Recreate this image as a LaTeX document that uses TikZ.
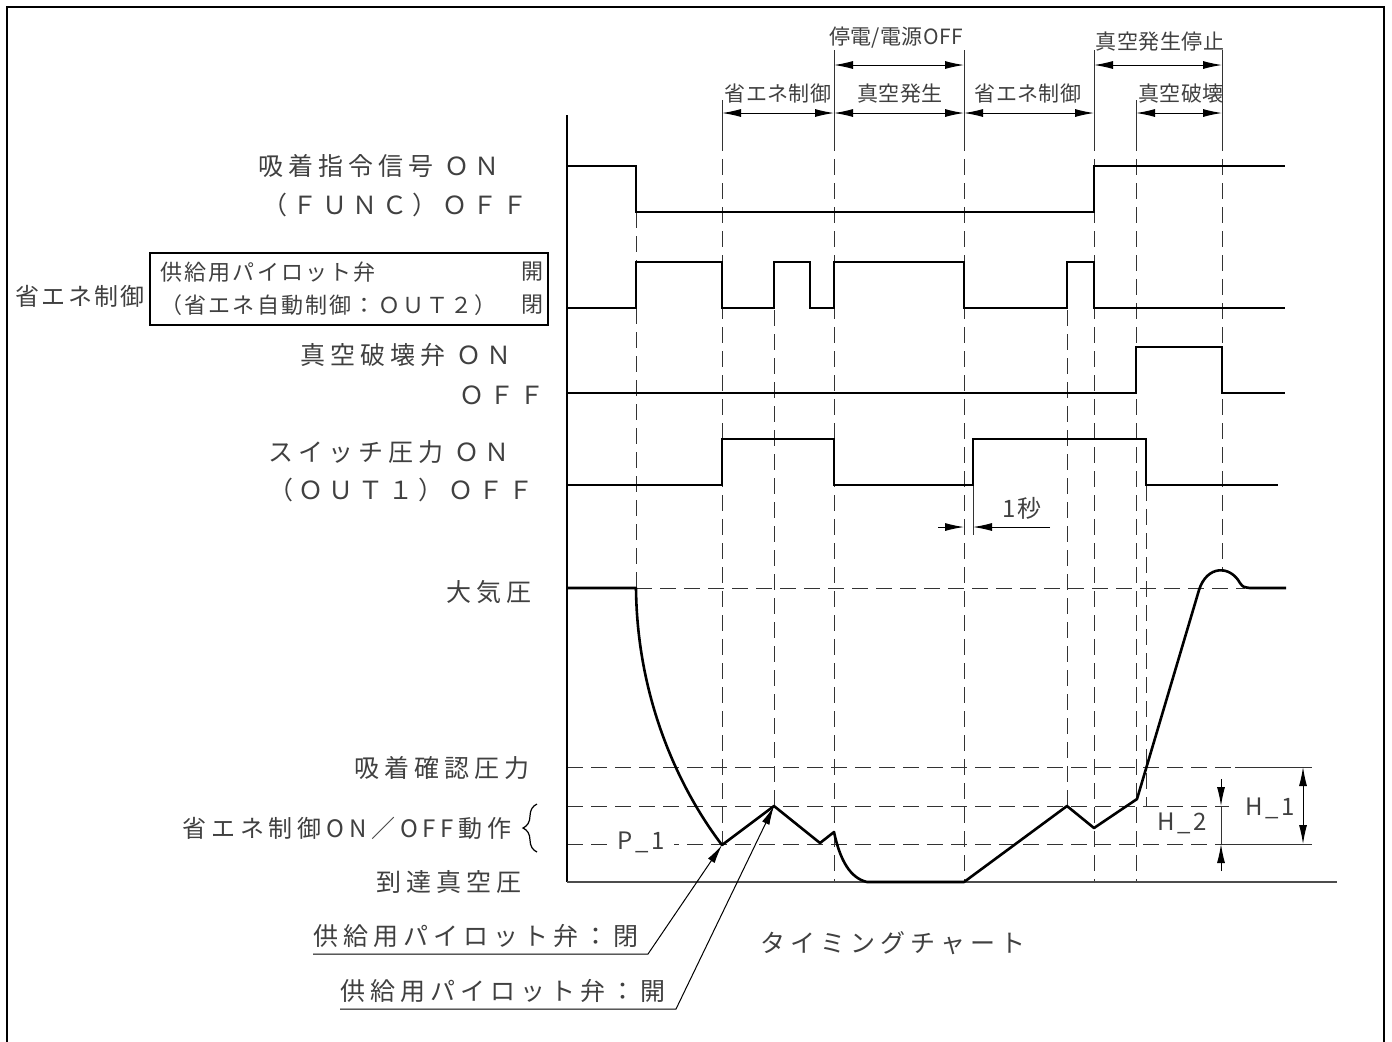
\documentclass[tikz,border=0pt]{standalone}
\usepackage{fontspec}
\setmainfont{Noto Sans CJK JP}
\newfontfamily\jpw[LetterSpace=20]{Noto Sans CJK JP}
\newfontfamily\jpm[LetterSpace=10]{Noto Sans CJK JP}
\newfontfamily\jpn[LetterSpace=2]{Noto Sans CJK JP}
\usetikzlibrary{arrows.meta,decorations.pathreplacing}
\begin{document}
\begin{tikzpicture}[x=0.5pt,y=-0.5pt,
  sig/.style={line width=1.3pt, line join=miter},
  guide/.style={line width=0.5pt, dash pattern=on 8pt off 4pt, black!80},
  ext/.style={line width=0.5pt, black!80},
  dimarr/.style={line width=0.5pt, {Latex[length=9.5pt,width=4pt]}-{Latex[length=9.5pt,width=4pt]}},
  onearr/.style={line width=0.5pt, -{Latex[length=9.5pt,width=4pt]}},
  lbl/.style={inner sep=0pt, font=\jpw\fontsize{12.5pt}{14pt}\selectfont, text=black!75},
  lbls/.style={inner sep=0pt, font=\jpw\fontsize{12pt}{14pt}\selectfont, text=black!75},
  lblm/.style={inner sep=0pt, font=\jpm\fontsize{12pt}{14pt}\selectfont, text=black!75},
  boxt/.style={inner sep=0pt, font=\jpm\fontsize{11pt}{13pt}\selectfont, text=black!75},
  sml/.style={inner sep=0pt, font=\jpn\fontsize{10.5pt}{12pt}\selectfont, text=black!75}
]
\useasboundingbox (0,0) rectangle (1392,1041);
% frame
\draw[line width=1pt] (7,1060) -- (7,7) -- (1384,7) -- (1384,1060);

% ---------- guide lines (vertical) ----------
\draw[ext] (722,100) -- (722,135);
\draw[guide] (722,135) -- (722,844);
\draw[ext] (834,50) -- (834,135);
\draw[guide] (834,135) -- (834,882);
\draw[ext] (964,50) -- (964,135);
\draw[guide] (964,135) -- (964,882);
\draw[ext] (1094,50) -- (1094,135);
\draw[guide] (1094,135) -- (1094,882);
\draw[ext] (1136,100) -- (1136,135);
\draw[guide] (1136,135) -- (1136,882);
\draw[ext] (1222,50) -- (1222,135);
\draw[guide] (1222,135) -- (1222,572);
\draw[guide] (636,212) -- (636,588);
\draw[guide] (774,262) -- (774,806);
\draw[guide] (1067,262) -- (1067,806);
\draw[guide] (1146,485) -- (1146,806);
\draw[ext] (973,485) -- (973,535);

% ---------- guide lines (horizontal) ----------
\draw[guide] (636,588) -- (1245,588);
\draw[guide] (567,767) -- (1235,767);
\draw[ext] (1235,767) -- (1312,767);
\draw[guide] (567,806) -- (1229,806);
\draw[guide] (567,844) -- (1230,844);
\draw[ext] (1230,844) -- (1312,844);

% ---------- top dimensions ----------
\draw[dimarr] (722,113) -- (834,113);
\draw[dimarr] (834,113) -- (964,113);
\draw[dimarr] (964,113) -- (1094,113);
\draw[dimarr] (1136,113) -- (1222,113);
\draw[dimarr] (834,65) -- (964,65);
\draw[dimarr] (1094,65) -- (1222,65);
\node[sml] (d1) at (778,94) {省エネ制御};
\node[sml] (d2) at (900,94) {真空発生};
\node[sml] (d3) at (1028,94) {省エネ制御};
\node[sml] (d4) at (1181,94) {真空破壊};
\node[sml] (d5) at (896,38) {停電/電源OFF};
\node[sml] (d6) at (1160,42) {真空発生停止};

% ---------- axes ----------
\draw[line width=1.3pt] (567,115) -- (567,882);
\draw[line width=0.7pt, black!70] (567,882) -- (1337,882);

% ---------- signals ----------
\draw[sig] (567,166) -- (636,166) -- (636,212) -- (1094,212) -- (1094,166) -- (1285,166);
\draw[sig] (567,308) -- (636,308) -- (636,262) -- (722,262) -- (722,308) -- (774,308) -- (774,262) -- (810,262) -- (810,308) -- (834,308) -- (834,262) -- (964,262) -- (964,308) -- (1067,308) -- (1067,262) -- (1094,262) -- (1094,308) -- (1285,308);
\draw[sig] (567,393) -- (1136,393) -- (1136,347) -- (1222,347) -- (1222,393) -- (1285,393);
\draw[sig] (567,485) -- (722,485) -- (722,439) -- (834,439) -- (834,485) -- (973,485) -- (973,439) -- (1146,439) -- (1146,485) -- (1278,485);

% pressure curve
\draw[sig, line join=round] (567,588) -- (636,588) .. controls (637,700) and (680,790) .. (722,845)
  -- (774,806) -- (820,843) -- (834,832) .. controls (840,860) and (850,878) .. (867,882)
  -- (964,882) -- (1067,806) -- (1094,828) -- (1137,799) -- (1199,590)
  .. controls (1207,565) and (1230,565) .. (1240,583) .. controls (1243,587) .. (1250,588) -- (1286,588);

% ---------- 1 second dimension ----------
\coordinate (s1a) at (938,527);
\coordinate (s1b) at (964,527);
\coordinate (s1c) at (973,527);
\coordinate (s1d) at (1050,527);
\draw[onearr] (s1a) -- (s1b);
\draw[onearr] (s1d) -- (s1c);
\node[lblm] (sec) at (1022,508) {1秒};

% ---------- H dimensions ----------
\draw[dimarr] (1303,767) -- (1303,844);
\node[lblm] (h1) at (1270,808) {H\_1};
\draw[onearr] (1221,779) -- (1221,806);
\draw[onearr] (1221,871) -- (1221,844);
\draw[ext] (1221,806) -- (1221,844);
\node[lblm] (h2) at (1182,823) {H\_2};
\node[lblm, fill=white, inner xsep=5pt] (p1) at (641,842) {P\_1};

% ---------- left labels ----------
\node[lbl, anchor=west] (t1a) at (258,166) {吸着指令信号 ＯＮ};
\node[lbl, anchor=west] (t1b) at (262,205) {（ＦＵＮＣ）ＯＦＦ};
\node[lblm, anchor=west] (t2) at (15,296) {省エネ制御};
\draw[line width=0.6pt] (150,253) rectangle (548,325);
\node[boxt, anchor=west] (t2a) at (160,272) {供給用パイロット弁};
\node[boxt, anchor=east] (t2b) at (544,272) {開};
\node[boxt, anchor=west] (t2c) at (160,305) {（省エネ自動制御：ＯＵＴ２）};
\node[boxt, anchor=east] (t2d) at (544,305) {閉};
\node[lbl, anchor=west] (t3a) at (300,355) {真空破壊弁 ＯＮ};
\node[lbl, anchor=east] (t3b) at (545,395) {ＯＦＦ};
\node[lbl, anchor=west] (t4a) at (268,452) {スイッチ圧力 ＯＮ};
\node[lbl, anchor=west] (t4b) at (268,490) {（ＯＵＴ１）ＯＦＦ};
\node[lbl, anchor=east] (t5) at (532,592) {大気圧};
\node[lbl, anchor=east] (t6) at (530,768) {吸着確認圧力};
\node[lbls, anchor=east] (t7) at (512,828) {省エネ制御ON／OFF動作};
\draw[line width=0.6pt, decorate, decoration={brace, amplitude=7pt}] (537,852) -- (537,804);
\node[lbl, anchor=east] (t8) at (522,882) {到達真空圧};

% ---------- leaders ----------
\node[lbl, anchor=west] (L1) at (313,936) {供給用パイロット弁：閉};
\node[lbl, anchor=west] (L2) at (340,991) {供給用パイロット弁：開};
\coordinate (L1u) at (313,954);
\coordinate (L1k) at (648,954);
\coordinate (tipA) at (722,845);
\coordinate (L2u) at (340,1009);
\coordinate (L2k) at (676,1009);
\coordinate (tipB) at (774,806);
\draw[onearr] (L1u) -- (L1k) -- (tipA);
\draw[onearr] (L2u) -- (L2k) -- (tipB);

\node[lbl] (title) at (893,943) {タイミングチャート};
\end{tikzpicture}
\end{document}
